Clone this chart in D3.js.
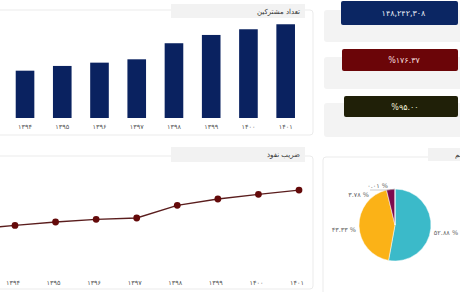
<!DOCTYPE html>
<html>
<head>
<meta charset="utf-8">
<script src="https://cdnjs.cloudflare.com/ajax/libs/d3/7.8.5/d3.min.js"></script>
<style>
  body { margin: 0; background: #fff; overflow: hidden; }
  svg { display: block; font-family: "DejaVu Sans", sans-serif; }
</style>
</head>
<body>
<svg id="chart" width="460" height="292"></svg>
<script>
// data
var barYears = ["۱۳۹۴", "۱۳۹۵", "۱۳۹۶", "۱۳۹۷", "۱۳۹۸", "۱۳۹۹", "۱۴۰۰", "۱۴۰۱"];
var subscribers = [74.8, 82.3, 87.5, 92.8, 118.2, 131.3, 140.3, 148.2]; // million
var lineYears = ["۱۳۹۳", "۱۳۹۴", "۱۳۹۵", "۱۳۹۶", "۱۳۹۷", "۱۳۹۸", "۱۳۹۹", "۱۴۰۰", "۱۴۰۱"];
var penetration = [100, 107, 113.7, 119, 121.6, 146.5, 158.8, 168, 176.4];
var kpiValues = [148242308, 176.37, 95.0];
var pieLabels = ["۵۲.۸۸ %", "۴۳.۳۳ %", "۳.۷۸ %", "۰.۰۱ %"];
var pieValues = [52.88, 43.33, 3.78, 0.01];

var faDigits = "۰۱۲۳۴۵۶۷۸۹";
function fa(s) {
  return String(s).replace(/\d/g, function (d) { return faDigits[d]; });
}

var svg = d3.select("#chart");

// card helper
function card(x, y, w, h, fill, stroke) {
  svg.append("rect")
    .attr("x", x).attr("y", y).attr("width", w).attr("height", h)
    .attr("rx", 3)
    .attr("fill", fill)
    .attr("stroke", stroke || "none");
}
function tab(x, y, w, h, label, tx, anchor) {
  svg.append("rect")
    .attr("x", x).attr("y", y).attr("width", w).attr("height", h)
    .attr("fill", "#f2f2f2");
  svg.append("text")
    .attr("x", tx).attr("y", y + h / 2 + 2.5)
    .attr("text-anchor", anchor || "end")
    .style("font-size", "7px")
    .style("fill", "#333")
    .text(label);
}

// ---- bar chart card
card(-10, 10, 323, 125, "#fff", "#ebebeb");
tab(171, 4, 134, 14, "تعداد مشترکین", 300);

var x = d3.scaleBand().domain(barYears).range([-2.9, 313.6]).padding(0.5);
var y = d3.scaleLinear().domain([0, 160]).range([118, 16.8]);

svg.append("g")
  .selectAll("rect")
  .data(subscribers)
  .enter()
  .append("rect")
  .attr("x", function (d, i) { return x(barYears[i]); })
  .attr("y", function (d) { return y(d); })
  .attr("width", x.bandwidth())
  .attr("height", function (d) { return y(0) - y(d); })
  .attr("fill", "#0a2260");

svg.append("g")
  .selectAll("text")
  .data(barYears)
  .enter()
  .append("text")
  .attr("x", function (d) { return x(d) + x.bandwidth() / 2; })
  .attr("y", 129)
  .attr("text-anchor", "middle")
  .style("font-size", "6.5px")
  .style("fill", "#555")
  .text(function (d) { return d; });

// ---- line chart card
card(-10, 156, 323, 133, "#fff", "#ebebeb");
tab(171, 147, 134, 15, "ضریب نفوذ", 300);

var xl = d3.scalePoint().domain(lineYears).range([-25.6, 299]);
var yl = d3.scaleLinear().domain([0, 200]).range([280, 178]);

var line = d3.line()
  .x(function (d, i) { return xl(lineYears[i]); })
  .y(function (d) { return yl(d); });

svg.append("path")
  .datum(penetration)
  .attr("d", line)
  .attr("fill", "none")
  .attr("stroke", "#5a1d1d")
  .attr("stroke-width", 1.3);

svg.append("g")
  .selectAll("circle")
  .data(penetration)
  .enter()
  .append("circle")
  .attr("cx", function (d, i) { return xl(lineYears[i]); })
  .attr("cy", function (d) { return yl(d); })
  .attr("r", 3.4)
  .attr("fill", "#640a0a");

// only the labels that fall inside the view
svg.append("g")
  .selectAll("text")
  .data(lineYears.filter(function (d) { return xl(d) > 0; }))
  .enter()
  .append("text")
  .attr("x", function (d) { return xl(d) - 2; })
  .attr("y", 285)
  .attr("text-anchor", "middle")
  .style("font-size", "6.5px")
  .style("fill", "#555")
  .text(function (d) { return d; });

// ---- KPI boxes
var kpiText = [
  fa(d3.format(",")(kpiValues[0])),
  "%" + fa(d3.format(".2f")(kpiValues[1])),
  "%" + fa(d3.format(".2f")(kpiValues[2]))
];
var kpiFill = ["#0b2663", "#6b0508", "#202008"];
var kpiInk = ["#e8ecf5", "#f5dede", "#f2f0d8"];
var kpiBack = [[10, 32], [57, 32], [103, 34]];
var kpiBox = [[341, 1, 117, 24], [342, 49, 116, 22], [344, 96, 114, 21]];

kpiBack.forEach(function (b) { card(324, b[0], 150, b[1], "#f3f3f3"); });
kpiBox.forEach(function (b, i) {
  svg.append("rect")
    .attr("x", b[0]).attr("y", b[1]).attr("width", b[2]).attr("height", b[3])
    .attr("rx", 2)
    .attr("fill", kpiFill[i]);
  svg.append("text")
    .attr("x", b[0] + b[2] / 2 + 4)
    .attr("y", b[1] + b[3] / 2 + 3)
    .attr("text-anchor", "middle")
    .style("font-size", "8px")
    .style("fill", kpiInk[i])
    .text(kpiText[i]);
});

// ---- pie card
card(323, 157, 150, 150, "#fff", "#ebebeb");
svg.append("rect")
  .attr("x", 428).attr("y", 148).attr("width", 40).attr("height", 13)
  .attr("fill", "#f2f2f2");
svg.append("text")
  .attr("x", 455).attr("y", 157)
  .style("font-size", "7px")
  .style("fill", "#333")
  .text("سهم");

var pieColors = ["#3bbac9", "#fbb217", "#7c0b4e", "#b0b0b0"];
var cx = 395, cy = 225, r = 36;
var arcs = d3.pie().sort(null)(pieValues);
var arc = d3.arc().innerRadius(0).outerRadius(r);

var pg = svg.append("g").attr("transform", "translate(" + cx + "," + cy + ")");
pg.selectAll("path")
  .data(arcs)
  .enter()
  .append("path")
  .attr("d", arc)
  .attr("fill", function (d, i) { return pieColors[i]; })
  .attr("stroke", "#fff")
  .attr("stroke-width", 0.5);

// labels: big slices beside the arc, small slices stacked up-left
arcs.forEach(function (a, i) {
  var mid = (a.startAngle + a.endAngle) / 2;
  var lx, ly, anchor;
  if (pieValues[i] > 10) {
    lx = Math.sin(mid) * (r + 3);
    ly = -Math.cos(mid) * (r + 3) + 6;
    anchor = Math.sin(mid) > 0 ? "start" : "end";
  } else {
    var k = pieValues[i] > 1 ? 0 : 1;
    lx = k === 0 ? -26 : -7;
    ly = k === 0 ? -28 : -37;
    anchor = "end";
    if (k === 1) {
      var ex = Math.sin(mid) * r, ey = -Math.cos(mid) * r;
      pg.append("polyline")
        .attr("points", [[lx - 18, ly + 2], [lx + 1, ly + 2], [ex, ey]].join(" "))
        .attr("fill", "none")
        .attr("stroke", "#999")
        .attr("stroke-width", 0.5);
    }
  }
  pg.append("text")
    .attr("x", lx)
    .attr("y", ly)
    .attr("text-anchor", anchor)
    .style("font-size", "6.5px")
    .style("fill", "#666")
    .text(pieLabels[i]);
});
</script>
</body>
</html>
